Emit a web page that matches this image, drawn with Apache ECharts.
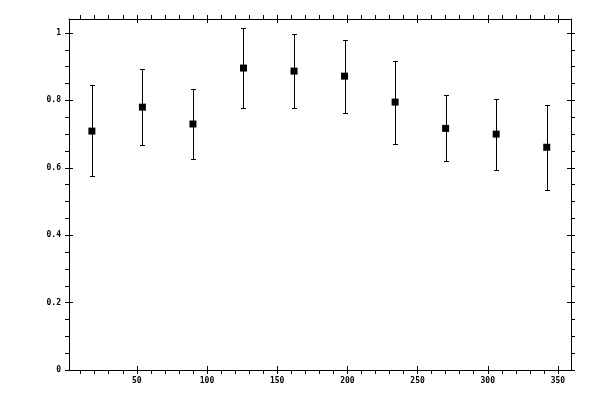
<!DOCTYPE html>
<html>
<head>
<meta charset="utf-8">
<script src="https://cdn.jsdelivr.net/npm/echarts@6/dist/echarts.min.js"></script>
<style>html,body{margin:0;padding:0;background:#fff}#c{width:600px;height:400px}</style>
</head>
<body>
<div id="c"></div>
<script>
const xValues = [18, 54, 90, 126, 162, 198, 234, 270, 306, 342];
const yValues = [0.709, 0.780, 0.730, 0.896, 0.887, 0.872, 0.795, 0.717, 0.700, 0.661];
const yHigh = [0.845, 0.893, 0.834, 1.015, 0.997, 0.979, 0.917, 0.816, 0.804, 0.786];
const yLow = [0.576, 0.667, 0.625, 0.777, 0.777, 0.762, 0.670, 0.620, 0.593, 0.533];
const xMajorTicks = [50, 100, 150, 200, 250, 300, 350];
const xMinorTicks = [10,20,30,40,60,70,80,90,110,120,130,140,160,170,180,190,210,220,230,240,260,270,280,290,310,320,330,340];
const yMajorTicks = [0, 0.2, 0.4, 0.6, 0.8, 1];
const yMinorTicks = [0.05,0.1,0.15,0.25,0.3,0.35,0.45,0.5,0.55,0.65,0.7,0.75,0.85,0.9,0.95];

const X_MIN = 1.7, X_MAX = 359.3, Y_MIN = 0, Y_MAX = 1.0416;
const font = {fontFamily: 'DejaVu Sans Mono', fontSize: 8, fontWeight: 'bold', color: '#000'};
const lineStyle = {color: '#000', width: 1};

function xAxisDef(pos, kind) {
  const showLine = kind === 'major';
  return {
    type: 'value', position: pos, min: X_MIN, max: X_MAX,
    axisLine: {show: showLine, onZero: false, lineStyle},
    splitLine: {show: false},
    axisTick: {
      show: true,
      inside: kind === 'inner',
      length: 4,
      customValues: kind === 'minor' ? xMinorTicks : xMajorTicks,
      lineStyle
    },
    axisLabel: (pos === 'bottom' && kind === 'major')
      ? Object.assign({show: true, margin: 7, customValues: xMajorTicks}, font)
      : {show: false}
  };
}
function yAxisDef(pos, kind) {
  const showLine = kind === 'major';
  return {
    type: 'value', position: pos, min: Y_MIN, max: Y_MAX,
    axisLine: {show: showLine, onZero: false, lineStyle},
    splitLine: {show: false},
    axisTick: {
      show: true,
      inside: kind === 'inner',
      length: 4,
      customValues: kind === 'minor' ? yMinorTicks : yMajorTicks,
      lineStyle
    },
    axisLabel: (pos === 'left' && kind === 'major')
      ? Object.assign({show: true, margin: 8, customValues: yMajorTicks, formatter: v => String(v)}, font)
      : {show: false}
  };
}

const errData = xValues.map((x, i) => [x, yLow[i], yHigh[i]]);
const ptData = xValues.map((x, i) => [x, yValues[i]]);

const chart = echarts.init(document.getElementById('c'), null, {renderer: 'canvas'});
chart.setOption({
  animation: false,
  backgroundColor: '#fff',
  grid: {left: 69, right: 29, top: 19, bottom: 30, containLabel: false},
  xAxis: [
    xAxisDef('bottom', 'major'), xAxisDef('bottom', 'inner'), xAxisDef('bottom', 'minor'),
    xAxisDef('top', 'major'), xAxisDef('top', 'inner'), xAxisDef('top', 'minor')
  ],
  yAxis: [
    yAxisDef('left', 'major'), yAxisDef('left', 'inner'), yAxisDef('left', 'minor'),
    yAxisDef('right', 'major'), yAxisDef('right', 'inner'), yAxisDef('right', 'minor')
  ],
  series: [
    {
      type: 'custom',
      xAxisIndex: 0, yAxisIndex: 0,
      data: errData,
      encode: {x: 0, y: [1, 2]},
      clip: false,
      renderItem: function (params, api) {
        const x = api.value(0);
        const lo = api.coord([x, api.value(1)]);
        const hi = api.coord([x, api.value(2)]);
        const cx = Math.round(lo[0]) + 0.5;
        const ly = Math.round(lo[1]) + 0.5;
        const hy = Math.round(hi[1]) + 0.5;
        const w = 2.5;
        const st = {stroke: '#000', lineWidth: 1, fill: null};
        return {
          type: 'group',
          children: [
            {type: 'line', shape: {x1: cx, y1: ly, x2: cx, y2: hy}, style: st},
            {type: 'line', shape: {x1: cx - w, y1: ly, x2: cx + w, y2: ly}, style: st},
            {type: 'line', shape: {x1: cx - w, y1: hy, x2: cx + w, y2: hy}, style: st}
          ]
        };
      }
    },
    {
      type: 'scatter',
      xAxisIndex: 0, yAxisIndex: 0,
      data: ptData,
      symbol: 'rect',
      symbolSize: 7,
      itemStyle: {color: '#000', opacity: 1},
      z: 5
    }
  ]
});
</script>
</body>
</html>
